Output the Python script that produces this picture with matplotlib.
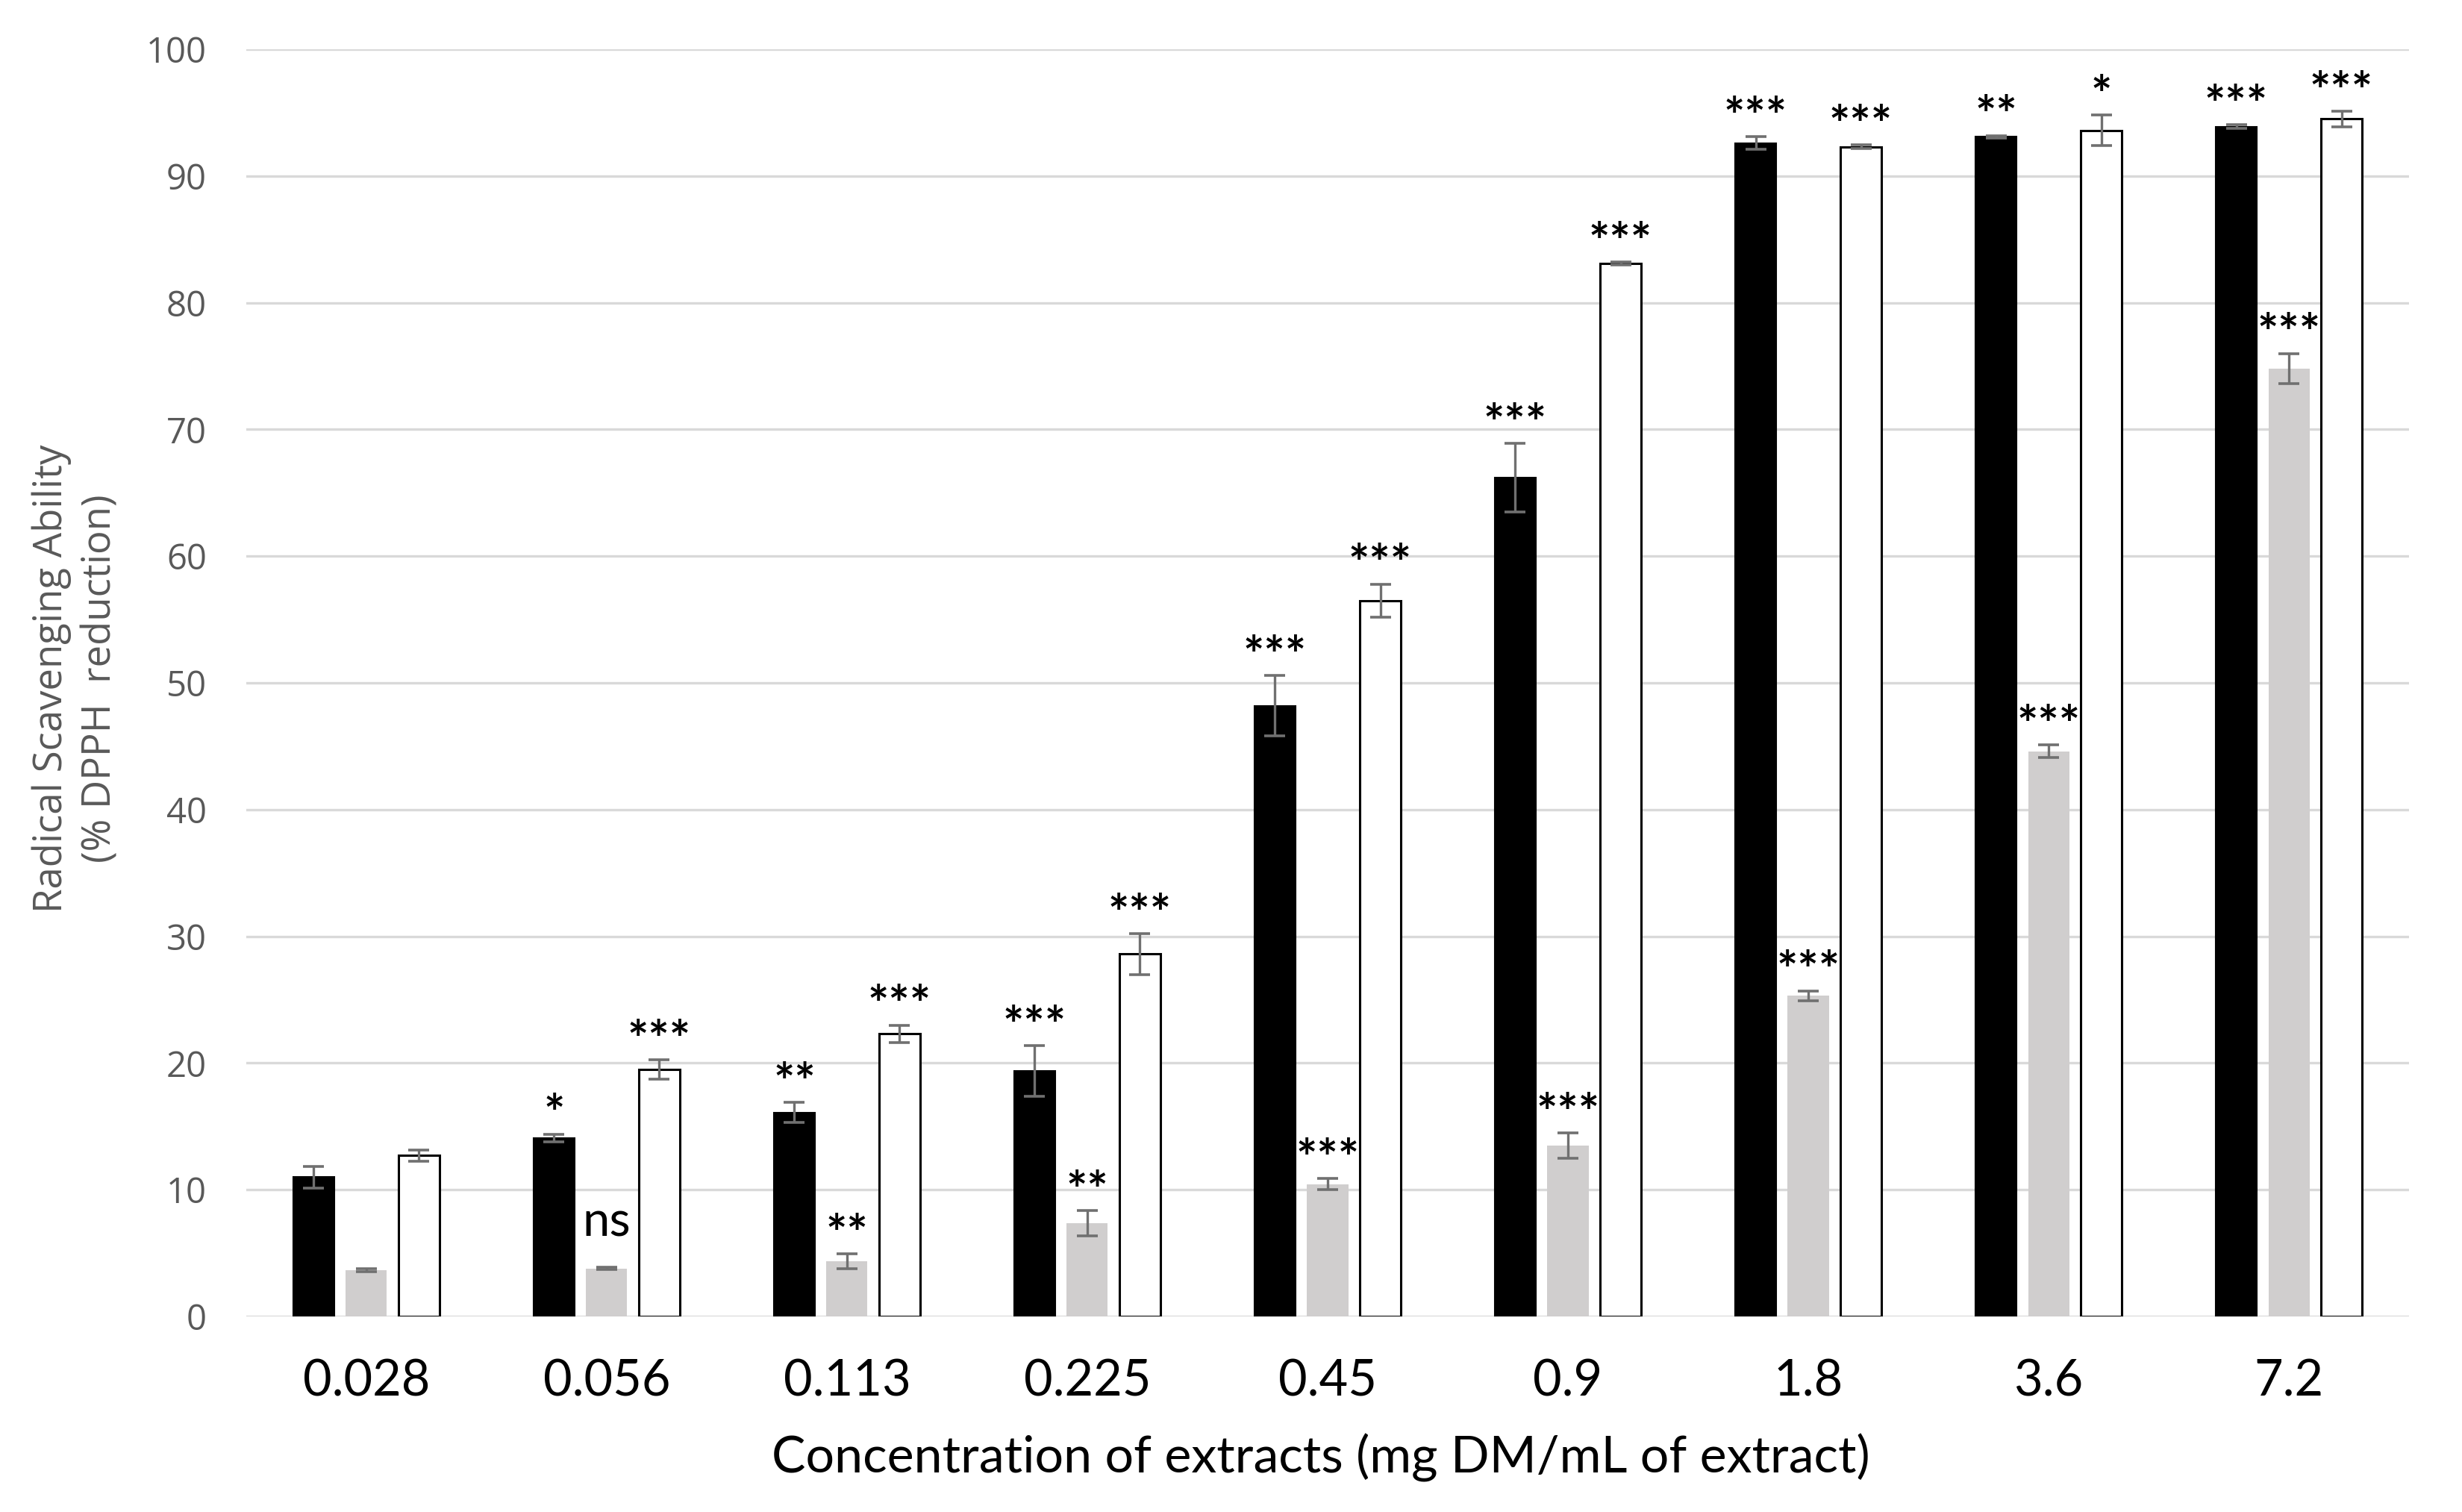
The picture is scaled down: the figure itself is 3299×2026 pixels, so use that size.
import numpy as np
import matplotlib
matplotlib.use("Agg")
import matplotlib.pyplot as plt

# concentrations (mg DM/mL of extract)
categories = ["0.028", "0.056", "0.113", "0.225", "0.45", "0.9", "1.8", "3.6", "7.2"]

# three extracts: black, grey, white bars
black_vals = [11.0, 14.1, 16.1, 19.4, 48.2, 66.2, 92.6, 93.1, 93.9]
black_err = [0.85, 0.3, 0.8, 2.0, 2.4, 2.7, 0.5, 0.1, 0.15]
grey_vals = [3.65, 3.8, 4.35, 7.35, 10.45, 13.5, 25.3, 44.6, 74.8]
grey_err = [0.1, 0.1, 0.6, 1.0, 0.45, 1.0, 0.4, 0.5, 1.2]
white_vals = [12.7, 19.5, 22.3, 28.6, 56.5, 83.1, 92.3, 93.6, 94.5]
white_err = [0.45, 0.75, 0.7, 1.6, 1.3, 0.1, 0.15, 1.2, 0.6]

# significance labels
black_sig = ["", "*", "**", "***", "***", "***", "***", "**", "***"]
grey_sig = ["", "ns", "**", "**", "***", "***", "***", "***", "***"]
white_sig = ["", "***", "***", "***", "***", "***", "***", "*", "***"]

fig = plt.figure(figsize=(32.99, 20.26), dpi=100)
ax = fig.add_axes([0.1000, 0.1293, 0.8785, 0.8381])

x = np.arange(len(categories))
w = 0.171
off = 0.219
ekw = dict(ecolor="#707070", elinewidth=2.4, capsize=10, capthick=2.6, zorder=4)

series = [
    (x - off, black_vals, black_err, black_sig, dict(color="black", edgecolor="black", linewidth=1.5)),
    (x, grey_vals, grey_err, grey_sig, dict(color="#D0CECE", edgecolor="none", linewidth=0)),
    (x + off, white_vals, white_err, white_sig, dict(color="white", edgecolor="black", linewidth=2.2)),
]

for xs, vals, errs, sigs, style in series:
    ax.bar(xs, vals, w, yerr=errs, error_kw=ekw, zorder=3, **style)
    for xi, v, e, s in zip(xs, vals, errs, sigs):
        if not s:
            continue
        if s == "ns":
            ax.annotate(s, (xi, v + e), xytext=(0, 30), textcoords="offset points",
                        ha="center", va="baseline", fontsize=47, family="Lato",
                        color="black", zorder=6, annotation_clip=False)
        else:
            ax.annotate(s, (xi, v + e), xytext=(0, 3), textcoords="offset points",
                        ha="center", va="baseline", fontsize=48, family="Lato",
                        fontweight="bold", color="black", zorder=6,
                        annotation_clip=False)

ax.set_xlim(-0.5, len(categories) - 0.5)
ax.set_ylim(0, 100)
ax.set_yticks(np.arange(0, 101, 10))
ax.set_xticks(x)
ax.set_xticklabels(categories, fontsize=48, family="Lato", color="black")
for lab in ax.get_yticklabels():
    lab.set_fontsize(34)
    lab.set_family("Open Sans")
    lab.set_color("#595959")

ax.tick_params(axis="both", length=0)
ax.tick_params(axis="x", pad=41)
ax.tick_params(axis="y", pad=38)
ax.yaxis.grid(True, color="#D9D9D9", linewidth=2.4, zorder=0)
ax.set_axisbelow(True)
for sp in ax.spines.values():
    sp.set_visible(False)

fig.text(0.5365, 0.0257, "Concentration of extracts (mg DM/mL of extract)",
         ha="center", va="baseline", fontsize=49, family="Lato", color="black")
fig.text(0.031, 0.551, "Radical Scavenging Ability\n(% DPPH  reduction)",
         rotation=90, ha="center", va="center", multialignment="center",
         fontsize=38, family="Open Sans", color="#595959", linespacing=1.3)

fig.savefig("out.png", dpi=100, facecolor="white")
